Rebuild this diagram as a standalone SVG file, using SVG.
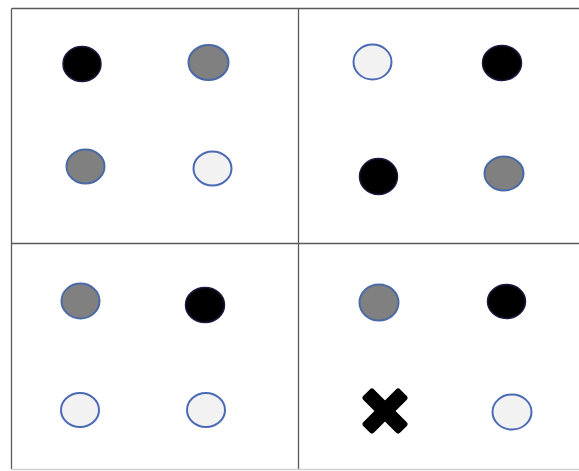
<svg xmlns="http://www.w3.org/2000/svg" width="579" height="471" viewBox="0 0 579 471">
<style>
.grid{stroke:#5a5a5a;stroke-width:1.3;fill:none}
.blk{fill:#000;stroke:#1a1a40;stroke-width:1.5}
.gry{fill:#808080;stroke:#4a6aa5;stroke-width:2}
.wht{fill:#f2f2f2;stroke:#4a6ab5;stroke-width:2}
</style>
<rect width="579" height="471" fill="#fff"/>
<g id="grid">
<path class="grid" d="M11.5,8.5 H579 M11.5,8.5 V469 M298.5,8.5 V469 M11.5,243.5 H579"/>
<path d="M11.5,469.5 H579" stroke="#d0d0d0" stroke-width="1.3" fill="none"/>
</g>
<g id="q1">
<ellipse class="blk" cx="82" cy="64" rx="19" ry="17.5"/>
<ellipse class="gry" cx="208.5" cy="62.5" rx="20" ry="17.5"/>
<ellipse class="gry" cx="85.5" cy="166.5" rx="19" ry="17"/>
<ellipse class="wht" cx="212.5" cy="168.5" rx="19" ry="17"/>
</g>
<g id="q2">
<ellipse class="wht" cx="372.5" cy="62" rx="19" ry="17.5"/>
<ellipse class="blk" cx="502" cy="63" rx="19.5" ry="17.5"/>
<ellipse class="blk" cx="378.5" cy="176.5" rx="19" ry="18"/>
<ellipse class="gry" cx="504" cy="173.5" rx="19.5" ry="17"/>
</g>
<g id="q3">
<ellipse class="gry" cx="80.5" cy="301" rx="19" ry="17.5"/>
<ellipse class="blk" cx="205" cy="305" rx="19.5" ry="17.5"/>
<ellipse class="wht" cx="80" cy="410" rx="19" ry="17"/>
<ellipse class="wht" cx="206" cy="410" rx="19" ry="17"/>
</g>
<g id="q4">
<ellipse class="gry" cx="379" cy="302.5" rx="19.5" ry="18"/>
<ellipse class="blk" cx="506.5" cy="301.5" rx="19" ry="17"/>
<g transform="translate(385,411)">
<rect x="-26" y="-7.5" width="52" height="15" rx="3" transform="rotate(45)" fill="#000"/>
<rect x="-26" y="-7.5" width="52" height="15" rx="3" transform="rotate(-45)" fill="#000"/>
</g>
<ellipse class="wht" cx="512" cy="412" rx="19.5" ry="17.5"/>
</g>
</svg>
